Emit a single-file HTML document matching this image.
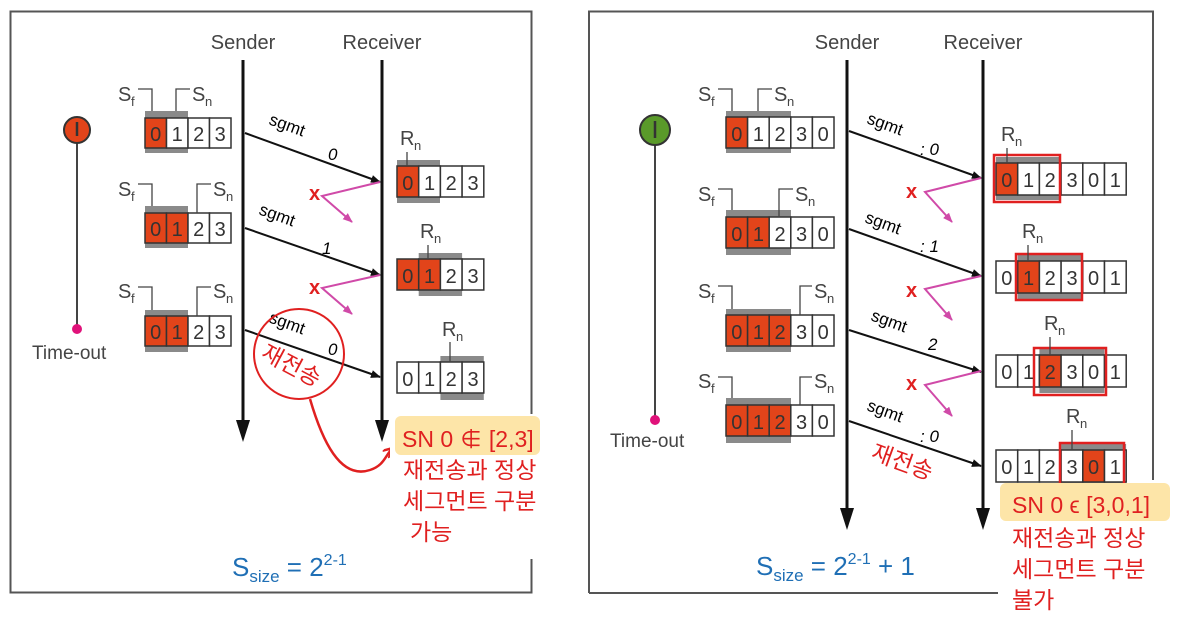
<!DOCTYPE html>
<html><head><meta charset="utf-8"><style>
html,body{margin:0;padding:0;background:#fff;}
svg{display:block;}
text{font-family:"Liberation Sans","Noto Sans CJK KR",sans-serif;}
.c{fill:#fff;stroke:#333;stroke-width:1.5;}
.o{fill:#e2441a;stroke:#333;stroke-width:1.5;}
.g{fill:#8a8a8a;}
.d{font-size:20px;fill:#333;text-anchor:middle;}
.lbl{font-size:20px;fill:#444;}
.sub{font-size:13px;fill:#444;}
.br{fill:none;stroke:#444;stroke-width:1.3;}
.rb{fill:none;stroke:#e02020;stroke-width:2.5;}
.kr{font-size:23px;fill:#e02020;}
.sg{font-size:17px;fill:#000;}
.pk{stroke:#d04aa8;stroke-width:2;fill:none;}
</style></head><body>
<svg width="1178" height="618" viewBox="0 0 1178 618" xmlns="http://www.w3.org/2000/svg">
<defs>
<marker id="ah" markerWidth="10" markerHeight="8" refX="9" refY="4" orient="auto" markerUnits="userSpaceOnUse"><path d="M0,0 L10,4 L0,8 z" fill="#111"/></marker>
<marker id="ahp" markerWidth="10" markerHeight="8" refX="9" refY="4" orient="auto" markerUnits="userSpaceOnUse"><path d="M0,0 L10,4 L0,8 z" fill="#d04aa8"/></marker>
<marker id="ahr" markerWidth="12" markerHeight="10" refX="10" refY="5" orient="auto" markerUnits="userSpaceOnUse"><path d="M0,0 L10,5 L0,10" fill="none" stroke="#e02020" stroke-width="2.5"/></marker>
</defs>

<!-- Panels -->
<rect x="10.5" y="11.5" width="521" height="581" fill="none" stroke="#555" stroke-width="2"/>
<path d="M589,593 V11.5 H1153 V480" fill="none" stroke="#555" stroke-width="2"/>
<line x1="589" y1="593" x2="1000" y2="593" stroke="#555" stroke-width="2"/>

<!-- ============ LEFT ============ -->
<text x="243" y="49" class="lbl" text-anchor="middle">Sender</text>
<text x="382" y="49" class="lbl" text-anchor="middle">Receiver</text>
<line x1="243" y1="60" x2="243" y2="425" stroke="#111" stroke-width="3"/>
<polygon points="236,420 250,420 243,442" fill="#111"/>
<line x1="382" y1="60" x2="382" y2="425" stroke="#111" stroke-width="3"/>
<polygon points="375,420 389,420 382,442" fill="#111"/>

<!-- timer -->
<line x1="77" y1="130" x2="77" y2="328" stroke="#444" stroke-width="2"/>
<circle cx="77" cy="130" r="13" fill="#e2441a" stroke="#333" stroke-width="2"/>
<line x1="77" y1="122" x2="77" y2="136" stroke="#333" stroke-width="2.5"/>
<circle cx="77" cy="329" r="5" fill="#e0127a"/>
<text x="32" y="359" class="lbl" style="font-size:19px">Time-out</text>

<!-- sender windows left -->
<g>
<rect class="g" x="145" y="111" width="43" height="42"/>
<rect class="o" x="145" y="118" width="21.5" height="30"/><rect class="c" x="166.5" y="118" width="21.5" height="30"/><rect class="c" x="188" y="118" width="21.5" height="30"/><rect class="c" x="209.5" y="118" width="21.5" height="30"/>
<text class="d" x="155.7" y="141">0</text><text class="d" x="177.2" y="141">1</text><text class="d" x="198.7" y="141">2</text><text class="d" x="220.2" y="141">3</text>
<text class="lbl" x="118" y="101">S</text><text class="sub" x="131" y="106">f</text>
<path class="br" d="M138,89 H152 V111"/>
<path class="br" d="M176,111 V89 H190"/>
<text class="lbl" x="192" y="101">S</text><text class="sub" x="205" y="106">n</text>
</g>
<g>
<rect class="g" x="145" y="206" width="43" height="42"/>
<rect class="o" x="145" y="213" width="21.5" height="30"/><rect class="o" x="166.5" y="213" width="21.5" height="30"/><rect class="c" x="188" y="213" width="21.5" height="30"/><rect class="c" x="209.5" y="213" width="21.5" height="30"/>
<text class="d" x="155.7" y="236">0</text><text class="d" x="177.2" y="236">1</text><text class="d" x="198.7" y="236">2</text><text class="d" x="220.2" y="236">3</text>
<text class="lbl" x="118" y="196">S</text><text class="sub" x="131" y="201">f</text>
<path class="br" d="M138,184 H152 V206"/>
<path class="br" d="M197,213 V184 H211"/>
<text class="lbl" x="213" y="196">S</text><text class="sub" x="226" y="201">n</text>
</g>
<g>
<rect class="g" x="145" y="310" width="43" height="42"/>
<rect class="o" x="145" y="316" width="21.5" height="30"/><rect class="o" x="166.5" y="316" width="21.5" height="30"/><rect class="c" x="188" y="316" width="21.5" height="30"/><rect class="c" x="209.5" y="316" width="21.5" height="30"/>
<text class="d" x="155.7" y="339">0</text><text class="d" x="177.2" y="339">1</text><text class="d" x="198.7" y="339">2</text><text class="d" x="220.2" y="339">3</text>
<text class="lbl" x="118" y="298">S</text><text class="sub" x="131" y="303">f</text>
<path class="br" d="M138,287 H152 V310"/>
<path class="br" d="M197,316 V287 H211"/>
<text class="lbl" x="213" y="298">S</text><text class="sub" x="226" y="303">n</text>
</g>

<!-- receiver windows left -->
<g>
<rect class="g" x="397" y="160" width="43" height="43"/>
<rect class="o" x="397" y="166" width="21.7" height="31"/><rect class="c" x="418.7" y="166" width="21.7" height="31"/><rect class="c" x="440.4" y="166" width="21.7" height="31"/><rect class="c" x="462.1" y="166" width="21.7" height="31"/>
<text class="d" x="407.8" y="190">0</text><text class="d" x="429.5" y="190">1</text><text class="d" x="451.2" y="190">2</text><text class="d" x="473" y="190">3</text>
<text class="lbl" x="400" y="145">R</text><text class="sub" x="414" y="150">n</text>
<line x1="407" y1="152" x2="407" y2="166" stroke="#444" stroke-width="1.3"/>
</g>
<g>
<rect class="g" x="418.7" y="253" width="43.4" height="43"/>
<rect class="o" x="397" y="259" width="21.7" height="31"/><rect class="o" x="418.7" y="259" width="21.7" height="31"/><rect class="c" x="440.4" y="259" width="21.7" height="31"/><rect class="c" x="462.1" y="259" width="21.7" height="31"/>
<text class="d" x="407.8" y="283">0</text><text class="d" x="429.5" y="283">1</text><text class="d" x="451.2" y="283">2</text><text class="d" x="473" y="283">3</text>
<text class="lbl" x="420" y="238">R</text><text class="sub" x="434" y="243">n</text>
<line x1="428" y1="245" x2="428" y2="259" stroke="#444" stroke-width="1.3"/>
</g>
<g>
<rect class="g" x="440.4" y="356" width="43.4" height="44"/>
<rect class="c" x="397" y="362" width="21.7" height="31"/><rect class="c" x="418.7" y="362" width="21.7" height="31"/><rect class="c" x="440.4" y="362" width="21.7" height="31"/><rect class="c" x="462.1" y="362" width="21.7" height="31"/>
<text class="d" x="407.8" y="386">0</text><text class="d" x="429.5" y="386">1</text><text class="d" x="451.2" y="386">2</text><text class="d" x="473" y="386">3</text>
<text class="lbl" x="442" y="336">R</text><text class="sub" x="456" y="341">n</text>
<line x1="450" y1="342" x2="450" y2="362" stroke="#444" stroke-width="1.3"/>
</g>

<!-- left arrows -->
<line x1="245" y1="133" x2="380" y2="182" stroke="#111" stroke-width="2" marker-end="url(#ah)"/>
<line x1="245" y1="228" x2="380" y2="275" stroke="#111" stroke-width="2" marker-end="url(#ah)"/>
<line x1="245" y1="330" x2="380" y2="377" stroke="#111" stroke-width="2" marker-end="url(#ah)"/>
<text class="sg" x="268" y="124" transform="rotate(20 268 124)">sgmt</text>
<text class="sg" x="328" y="160" font-style="italic">0</text>
<text class="sg" x="258" y="214" transform="rotate(20 258 214)">sgmt</text>
<text class="sg" x="322" y="254" font-style="italic">1</text>
<text class="sg" x="268" y="322" transform="rotate(20 268 322)">sgmt</text>
<text class="sg" x="328" y="355" font-style="italic">0</text>
<!-- acks left -->
<path class="pk" d="M380,182 L322,196 L352,222" marker-end="url(#ahp)"/>
<path class="pk" d="M380,275 L322,288 L352,314" marker-end="url(#ahp)"/>
<text x="309" y="200" style="font-size:20px;fill:#e02020;font-weight:bold">x</text>
<text x="309" y="294" style="font-size:20px;fill:#e02020;font-weight:bold">x</text>

<!-- circle annotation left -->
<circle cx="299" cy="354" r="45" fill="none" stroke="#e02020" stroke-width="2"/>
<text class="kr" x="262" y="372" transform="rotate(28 290 360)">재전송</text>
<path d="M310,399 C322,440 340,480 370,470 C385,465 385,455 393,448" fill="none" stroke="#e02020" stroke-width="2.5" marker-end="url(#ahr)"/>

<rect x="390" y="414" width="170" height="145" fill="#fff"/>
<rect x="395" y="416" width="145" height="39" rx="6" fill="#fde5a8"/>
<text class="kr" x="402" y="447">SN 0 ∉ [2,3]</text>
<text class="kr" x="403" y="478">재전송과 정상</text>
<text class="kr" x="403" y="509">세그먼트 구분</text>
<text class="kr" x="410" y="540">가능</text>

<text x="232" y="576" style="font-size:26px;fill:#1f6fb5">S<tspan style="font-size:17px" dy="6">size</tspan><tspan dy="-6"> = 2</tspan><tspan style="font-size:16px" dy="-11">2-1</tspan></text>

<!-- ============ RIGHT ============ -->
<text x="847" y="49" class="lbl" text-anchor="middle">Sender</text>
<text x="983" y="49" class="lbl" text-anchor="middle">Receiver</text>
<line x1="847" y1="60" x2="847" y2="512" stroke="#111" stroke-width="3"/>
<polygon points="840,508 854,508 847,530" fill="#111"/>
<line x1="983" y1="60" x2="983" y2="512" stroke="#111" stroke-width="3"/>
<polygon points="976,508 990,508 983,530" fill="#111"/>

<line x1="655" y1="130" x2="655" y2="418" stroke="#444" stroke-width="2"/>
<circle cx="655" cy="130" r="15" fill="#5a9a2a" stroke="#333" stroke-width="2"/>
<line x1="655" y1="121" x2="655" y2="138" stroke="#333" stroke-width="2.5"/>
<circle cx="655" cy="420" r="5" fill="#e0127a"/>
<text x="610" y="447" class="lbl" style="font-size:19px">Time-out</text>

<!-- right sender windows -->
<g>
<rect class="g" x="726" y="111" width="65" height="42"/>
<rect class="o" x="726" y="117" width="21.6" height="31"/><rect class="c" x="747.6" y="117" width="21.6" height="31"/><rect class="c" x="769.2" y="117" width="21.6" height="31"/><rect class="c" x="790.8" y="117" width="21.6" height="31"/><rect class="c" x="812.4" y="117" width="21.6" height="31"/>
<text class="d" x="736.8" y="141">0</text><text class="d" x="758.4" y="141">1</text><text class="d" x="780" y="141">2</text><text class="d" x="801.6" y="141">3</text><text class="d" x="823.2" y="141">0</text>
<text class="lbl" x="698" y="101">S</text><text class="sub" x="711" y="106">f</text>
<path class="br" d="M718,89 H732 V111"/>
<path class="br" d="M758,111 V89 H772"/>
<text class="lbl" x="774" y="101">S</text><text class="sub" x="787" y="106">n</text>
</g>
<g>
<rect class="g" x="726" y="210" width="65" height="45"/>
<rect class="o" x="726" y="217" width="21.6" height="31"/><rect class="o" x="747.6" y="217" width="21.6" height="31"/><rect class="c" x="769.2" y="217" width="21.6" height="31"/><rect class="c" x="790.8" y="217" width="21.6" height="31"/><rect class="c" x="812.4" y="217" width="21.6" height="31"/>
<text class="d" x="736.8" y="241">0</text><text class="d" x="758.4" y="241">1</text><text class="d" x="780" y="241">2</text><text class="d" x="801.6" y="241">3</text><text class="d" x="823.2" y="241">0</text>
<text class="lbl" x="698" y="201">S</text><text class="sub" x="711" y="206">f</text>
<path class="br" d="M718,189 H732 V210"/>
<path class="br" d="M779,217 V189 H793"/>
<text class="lbl" x="795" y="201">S</text><text class="sub" x="808" y="206">n</text>
</g>
<g>
<rect class="g" x="726" y="309" width="65" height="43"/>
<rect class="o" x="726" y="315" width="21.6" height="31"/><rect class="o" x="747.6" y="315" width="21.6" height="31"/><rect class="o" x="769.2" y="315" width="21.6" height="31"/><rect class="c" x="790.8" y="315" width="21.6" height="31"/><rect class="c" x="812.4" y="315" width="21.6" height="31"/>
<text class="d" x="736.8" y="339">0</text><text class="d" x="758.4" y="339">1</text><text class="d" x="780" y="339">2</text><text class="d" x="801.6" y="339">3</text><text class="d" x="823.2" y="339">0</text>
<text class="lbl" x="698" y="298">S</text><text class="sub" x="711" y="303">f</text>
<path class="br" d="M718,286 H732 V309"/>
<path class="br" d="M800,315 V286 H812"/>
<text class="lbl" x="814" y="298">S</text><text class="sub" x="827" y="303">n</text>
</g>
<g>
<rect class="g" x="726" y="398" width="65" height="45"/>
<rect class="o" x="726" y="405" width="21.6" height="31"/><rect class="o" x="747.6" y="405" width="21.6" height="31"/><rect class="o" x="769.2" y="405" width="21.6" height="31"/><rect class="c" x="790.8" y="405" width="21.6" height="31"/><rect class="c" x="812.4" y="405" width="21.6" height="31"/>
<text class="d" x="736.8" y="429">0</text><text class="d" x="758.4" y="429">1</text><text class="d" x="780" y="429">2</text><text class="d" x="801.6" y="429">3</text><text class="d" x="823.2" y="429">0</text>
<text class="lbl" x="698" y="388">S</text><text class="sub" x="711" y="393">f</text>
<path class="br" d="M718,377 H732 V398"/>
<path class="br" d="M800,405 V377 H812"/>
<text class="lbl" x="814" y="388">S</text><text class="sub" x="827" y="393">n</text>
</g>

<!-- right receiver windows -->
<g>
<rect class="g" x="996" y="157" width="65" height="43"/>
<rect class="o" x="996" y="163" width="21.7" height="32"/><rect class="c" x="1017.7" y="163" width="21.7" height="32"/><rect class="c" x="1039.4" y="163" width="21.7" height="32"/><rect class="c" x="1061.1" y="163" width="21.7" height="32"/><rect class="c" x="1082.8" y="163" width="21.7" height="32"/><rect class="c" x="1104.5" y="163" width="21.7" height="32"/>
<text class="d" x="1006.8" y="187">0</text><text class="d" x="1028.5" y="187">1</text><text class="d" x="1050.2" y="187">2</text><text class="d" x="1072" y="187">3</text><text class="d" x="1093.6" y="187">0</text><text class="d" x="1115.3" y="187">1</text>
<rect class="rb" x="994" y="155" width="66" height="47"/>
<text class="lbl" x="1001" y="141">R</text><text class="sub" x="1015" y="146">n</text>
<line x1="1007" y1="148" x2="1007" y2="163" stroke="#444" stroke-width="1.3"/>
</g>
<g>
<rect class="g" x="1017.7" y="255" width="65" height="44"/>
<rect class="c" x="996" y="261" width="21.7" height="32"/><rect class="o" x="1017.7" y="261" width="21.7" height="32"/><rect class="c" x="1039.4" y="261" width="21.7" height="32"/><rect class="c" x="1061.1" y="261" width="21.7" height="32"/><rect class="c" x="1082.8" y="261" width="21.7" height="32"/><rect class="c" x="1104.5" y="261" width="21.7" height="32"/>
<text class="d" x="1006.8" y="285">0</text><text class="d" x="1028.5" y="285">1</text><text class="d" x="1050.2" y="285">2</text><text class="d" x="1072" y="285">3</text><text class="d" x="1093.6" y="285">0</text><text class="d" x="1115.3" y="285">1</text>
<rect class="rb" x="1016" y="254" width="66" height="46"/>
<text class="lbl" x="1022" y="238">R</text><text class="sub" x="1036" y="243">n</text>
<line x1="1028" y1="245" x2="1028" y2="261" stroke="#444" stroke-width="1.3"/>
</g>
<g>
<rect class="g" x="1039.4" y="349" width="65" height="44"/>
<rect class="c" x="996" y="355" width="21.7" height="32"/><rect class="c" x="1017.7" y="355" width="21.7" height="32"/><rect class="o" x="1039.4" y="355" width="21.7" height="32"/><rect class="c" x="1061.1" y="355" width="21.7" height="32"/><rect class="c" x="1082.8" y="355" width="21.7" height="32"/><rect class="c" x="1104.5" y="355" width="21.7" height="32"/>
<text class="d" x="1006.8" y="379">0</text><text class="d" x="1028.5" y="379">1</text><text class="d" x="1050.2" y="379">2</text><text class="d" x="1072" y="379">3</text><text class="d" x="1093.6" y="379">0</text><text class="d" x="1115.3" y="379">1</text>
<rect class="rb" x="1034" y="348" width="72" height="47"/>
<text class="lbl" x="1044" y="330">R</text><text class="sub" x="1058" y="335">n</text>
<line x1="1050" y1="337" x2="1050" y2="355" stroke="#444" stroke-width="1.3"/>
</g>
<g>
<rect class="g" x="1061.1" y="444" width="65" height="44"/>
<rect class="c" x="996" y="450" width="21.7" height="32"/><rect class="c" x="1017.7" y="450" width="21.7" height="32"/><rect class="c" x="1039.4" y="450" width="21.7" height="32"/><rect class="c" x="1061.1" y="450" width="21.7" height="32"/><rect class="o" x="1082.8" y="450" width="21.7" height="32"/><rect class="c" x="1104.5" y="450" width="21.7" height="32"/>
<text class="d" x="1006.8" y="474">0</text><text class="d" x="1028.5" y="474">1</text><text class="d" x="1050.2" y="474">2</text><text class="d" x="1072" y="474">3</text><text class="d" x="1093.6" y="474">0</text><text class="d" x="1115.3" y="474">1</text>
<rect class="rb" x="1060" y="443" width="64" height="42"/>
<text class="lbl" x="1066" y="423">R</text><text class="sub" x="1080" y="428">n</text>
<line x1="1072" y1="430" x2="1072" y2="450" stroke="#444" stroke-width="1.3"/>
</g>

<!-- right arrows -->
<line x1="849" y1="131" x2="981" y2="178" stroke="#111" stroke-width="2" marker-end="url(#ah)"/>
<line x1="849" y1="229" x2="981" y2="276" stroke="#111" stroke-width="2" marker-end="url(#ah)"/>
<line x1="849" y1="330" x2="981" y2="372" stroke="#111" stroke-width="2" marker-end="url(#ah)"/>
<line x1="849" y1="421" x2="981" y2="466" stroke="#111" stroke-width="2" marker-end="url(#ah)"/>
<text class="sg" x="866" y="123" transform="rotate(20 866 123)">sgmt</text>
<text class="sg" x="920" y="155" font-style="italic">: 0</text>
<text class="sg" x="864" y="222" transform="rotate(20 864 222)">sgmt</text>
<text class="sg" x="920" y="252" font-style="italic">: 1</text>
<text class="sg" x="870" y="320" transform="rotate(20 870 320)">sgmt</text>
<text class="sg" x="928" y="350" font-style="italic">2</text>
<text class="sg" x="866" y="410" transform="rotate(20 866 410)">sgmt</text>
<text class="sg" x="920" y="442" font-style="italic">: 0</text>
<path class="pk" d="M981,178 L925,192 L952,222" marker-end="url(#ahp)"/>
<path class="pk" d="M981,276 L925,289 L952,320" marker-end="url(#ahp)"/>
<path class="pk" d="M981,371 L925,385 L952,416" marker-end="url(#ahp)"/>
<text x="906" y="198" style="font-size:20px;fill:#e02020;font-weight:bold">x</text>
<text x="906" y="297" style="font-size:20px;fill:#e02020;font-weight:bold">x</text>
<text x="906" y="390" style="font-size:20px;fill:#e02020;font-weight:bold">x</text>
<text class="kr" x="870" y="462" transform="rotate(20 880 460)">재전송</text>

<rect x="998" y="483" width="180" height="135" fill="#fff"/>
<rect x="1000" y="483" width="170" height="38" rx="6" fill="#fde5a8"/>
<text class="kr" x="1012" y="513">SN 0 ϵ [3,0,1]</text>
<text class="kr" x="1012" y="546">재전송과 정상</text>
<text class="kr" x="1012" y="577">세그먼트 구분</text>
<text class="kr" x="1012" y="608">불가</text>

<text x="756" y="575" style="font-size:26px;fill:#1f6fb5">S<tspan style="font-size:17px" dy="6">size</tspan><tspan dy="-6"> = 2</tspan><tspan style="font-size:16px" dy="-11">2-1</tspan><tspan dy="11"> + 1</tspan></text>
</svg>
</body></html>
